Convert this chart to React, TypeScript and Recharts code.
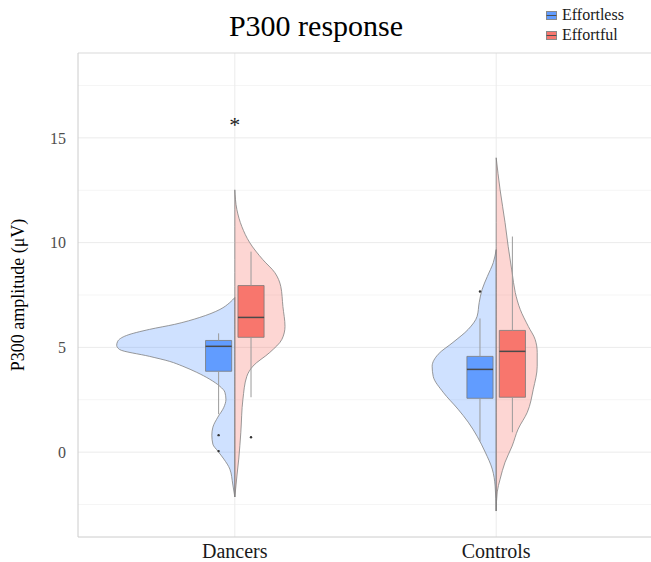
import React from "react";
import {
  ComposedChart,
  Area,
  XAxis,
  YAxis,
  CartesianGrid,
  ReferenceArea,
  ReferenceLine,
  ReferenceDot,
  Legend,
} from "recharts";

const SERIF = '"Liberation Serif", "Times New Roman", serif';

const GROUPS = ["Dancers", "Controls"];
const CONDITIONS = ["Effortless", "Effortful"];
const COLORS: Record<string, string> = { Effortless: "#619CFF", Effortful: "#F8766D" };

// violin halves: amplitude (µV) and half-width (in group units)
const DANCERS_EFFORTLESS_Y = [7.38, 7.14, 6.81, 6.43, 6.1, 5.86, 5.57, 5.29, 5.1, 4.9, 4.57, 4.33, 4.1, 3.81, 3.48, 3.14, 2.86, 2.52, 2.14, 1.67, 1.19, 0.81, 0.38, 0.05, -0.33, -0.81, -1.52, -2.14];
const DANCERS_EFFORTLESS_W = [0, 0.019, 0.057, 0.134, 0.23, 0.326, 0.414, 0.448, 0.452, 0.441, 0.326, 0.249, 0.199, 0.146, 0.096, 0.057, 0.038, 0.034, 0.042, 0.065, 0.084, 0.088, 0.084, 0.065, 0.042, 0.019, 0.008, 0];

const DANCERS_EFFORTFUL_Y = [12.52, 11.57, 10.76, 10.0, 9.19, 8.57, 7.9, 6.95, 6.0, 5.38, 4.76, 4.1, 3.62, 2.52, 0.95, -0.33, -1.14, -2.14];
const DANCERS_EFFORTFUL_W = [0, 0.008, 0.027, 0.057, 0.107, 0.153, 0.176, 0.184, 0.192, 0.18, 0.134, 0.069, 0.046, 0.031, 0.023, 0.015, 0.008, 0];

const CONTROLS_EFFORTLESS_Y = [9.67, 9.05, 8.38, 7.76, 7.14, 6.48, 5.86, 5.24, 4.67, 4.1, 3.62, 2.86, 2.05, 1.43, 0.76, 0.0, -0.81, -1.62, -2.81];
const CONTROLS_EFFORTLESS_W = [0, 0.011, 0.034, 0.054, 0.065, 0.073, 0.107, 0.165, 0.222, 0.245, 0.241, 0.203, 0.146, 0.107, 0.073, 0.042, 0.015, 0.004, 0];

const CONTROLS_EFFORTFUL_Y = [14.05, 12.52, 10.95, 9.81, 8.57, 7.62, 6.81, 6.0, 5.38, 4.76, 4.1, 3.0, 1.9, 1.1, 0.29, -0.48, -1.29, -1.9, -2.81];
const CONTROLS_EFFORTFUL_W = [0, 0.015, 0.034, 0.046, 0.061, 0.073, 0.092, 0.123, 0.149, 0.157, 0.157, 0.142, 0.119, 0.084, 0.061, 0.034, 0.015, 0.004, 0];

// boxplots, order: Dancers/Effortless, Dancers/Effortful, Controls/Effortless, Controls/Effortful
const BOX_GROUP = [1, 1, 2, 2];
const BOX_COND = ["Effortless", "Effortful", "Effortless", "Effortful"];
const BOX_LOW = [1.81, 2.62, 0.52, 0.95];
const BOX_Q1 = [3.86, 5.48, 2.57, 2.62];
const BOX_MED = [5.05, 6.43, 3.95, 4.81];
const BOX_Q3 = [5.33, 7.95, 4.57, 5.81];
const BOX_HIGH = [5.67, 9.57, 6.38, 10.29];

const OUTLIER_GROUP = [1, 1, 1, 2];
const OUTLIER_COND = ["Effortless", "Effortless", "Effortful", "Effortless"];
const OUTLIER_Y = [0.81, 0.05, 0.71, 7.67];

const SIGNIF_GROUP = [1];
const SIGNIF_Y = [15.65];
const SIGNIF_LABEL = ["*"];

const Y_DOMAIN: [number, number] = [-4.05, 19.05];
const Y_TICKS = [0, 5, 10, 15];
const Y_MINOR = [-2.5, 2.5, 7.5, 12.5, 17.5];

const DODGE = 0.062;
const BOX_HALF = 0.05;

const halves = [
  { key: "de", group: 1, cond: "Effortless", ys: DANCERS_EFFORTLESS_Y, ws: DANCERS_EFFORTLESS_W },
  { key: "df", group: 1, cond: "Effortful", ys: DANCERS_EFFORTFUL_Y, ws: DANCERS_EFFORTFUL_W },
  { key: "ce", group: 2, cond: "Effortless", ys: CONTROLS_EFFORTLESS_Y, ws: CONTROLS_EFFORTLESS_W },
  { key: "cf", group: 2, cond: "Effortful", ys: CONTROLS_EFFORTFUL_Y, ws: CONTROLS_EFFORTFUL_W },
].map((h) => ({
  ...h,
  rows: h.ys.map((y, i) => ({
    y,
    v: h.cond === "Effortless" ? [h.group - h.ws[i], h.group] : [h.group, h.group + h.ws[i]],
  })),
}));

const boxes = BOX_GROUP.map((g, i) => {
  const cx = g + (BOX_COND[i] === "Effortless" ? -DODGE : DODGE);
  return { cx, cond: BOX_COND[i], low: BOX_LOW[i], q1: BOX_Q1[i], med: BOX_MED[i], q3: BOX_Q3[i], high: BOX_HIGH[i] };
});

function LegendKey({ color }: { color: string }) {
  return (
    <svg width={11} height={9} style={{ marginRight: 5, display: "block" }}>
      <rect x={0.5} y={0.5} width={10} height={8} fill={color} stroke="#8a8a8a" strokeWidth={1} />
      <line x1={0.5} x2={10.5} y1={4.5} y2={4.5} stroke="#4d4d4d" strokeWidth={1} />
    </svg>
  );
}

function renderLegend() {
  return (
    <div style={{ fontFamily: SERIF, fontSize: 16, color: "#1a1a1a" }}>
      {CONDITIONS.map((c) => (
        <div key={c} style={{ display: "flex", alignItems: "center", height: 20 }}>
          <LegendKey color={COLORS[c]} />
          <span>{c}</span>
        </div>
      ))}
    </div>
  );
}

export default function App() {
  return (
    <div style={{ position: "absolute", left: 0, top: 0, width: 651, height: 562, overflow: "hidden", background: "#fff" }}>
      <div
        style={{
          position: "absolute",
          left: 0,
          top: 11,
          width: 632,
          textAlign: "center",
          fontFamily: SERIF,
          fontSize: 30,
          lineHeight: "30px",
          color: "#000",
        }}
      >
        P300 response
      </div>
      <ComposedChart
        width={653}
        height={562}
        layout="vertical"
        margin={{ top: 53, right: 0, bottom: 0, left: 0 }}
      >
        <CartesianGrid horizontalValues={Y_MINOR} vertical={false} stroke="#f5f5f5" />
        <CartesianGrid horizontalValues={Y_TICKS} verticalValues={[1, 2]} stroke="#ebebeb" />
        <XAxis
          type="number"
          domain={[0.4, 2.6]}
          ticks={[1, 2]}
          allowDataOverflow
          tickFormatter={(v) => GROUPS[v - 1]}
          tickLine={false}
          tickMargin={1}
          height={25}
          axisLine={{ stroke: "#cccccc" }}
          tick={{ fontFamily: SERIF, fontSize: 20, fill: "#1a1a1a" }}
        />
        <YAxis
          type="number"
          dataKey="y"
          domain={Y_DOMAIN}
          ticks={Y_TICKS}
          reversed
          allowDataOverflow
          width={78}
          tickLine={false}
          tickMargin={6}
          axisLine={{ stroke: "#cccccc" }}
          tick={{ fontFamily: SERIF, fontSize: 16, fill: "#4d4d4d" }}
          label={{
            value: "P300 amplitude (μV)",
            angle: -90,
            position: "center",
            dx: -21,
            style: { fontFamily: SERIF, fontSize: 18, fill: "#000", textAnchor: "middle" },
          }}
        />
        <ReferenceLine y={Y_DOMAIN[1]} stroke="#d9d9d9" />
        {halves.map((h) => (
          <Area
            key={h.key}
            data={h.rows}
            dataKey="v"
            type="monotone"
            fill={COLORS[h.cond]}
            fillOpacity={0.3}
            stroke="#808080"
            strokeWidth={0.8}
            dot={false}
            activeDot={false}
            isAnimationActive={false}
          />
        ))}
        {boxes.map((b, i) => (
          <ReferenceLine
            key={`wu${i}`}
            segment={[{ x: b.cx, y: b.q3 }, { x: b.cx, y: b.high }]}
            stroke="#9a9a9a"
            strokeWidth={1}
          />
        ))}
        {boxes.map((b, i) => (
          <ReferenceLine
            key={`wl${i}`}
            segment={[{ x: b.cx, y: b.low }, { x: b.cx, y: b.q1 }]}
            stroke="#9a9a9a"
            strokeWidth={1}
          />
        ))}
        {boxes.map((b, i) => (
          <ReferenceArea
            key={`box${i}`}
            x1={b.cx - BOX_HALF}
            x2={b.cx + BOX_HALF}
            y1={b.q1}
            y2={b.q3}
            fill={COLORS[b.cond]}
            fillOpacity={1}
            stroke="#7a7a7a"
            strokeWidth={0.8}
          />
        ))}
        {boxes.map((b, i) => (
          <ReferenceLine
            key={`med${i}`}
            segment={[{ x: b.cx - BOX_HALF, y: b.med }, { x: b.cx + BOX_HALF, y: b.med }]}
            stroke="#4a4a4a"
            strokeWidth={1.5}
          />
        ))}
        {OUTLIER_Y.map((y, i) => (
          <ReferenceDot
            key={`o${i}`}
            x={OUTLIER_GROUP[i] + (OUTLIER_COND[i] === "Effortless" ? -DODGE : DODGE)}
            y={y}
            r={1.2}
            fill="#333"
            stroke="none"
          />
        ))}
        {SIGNIF_Y.map((y, i) => (
          <ReferenceDot
            key={`s${i}`}
            x={SIGNIF_GROUP[i]}
            y={y}
            r={0}
            fill="none"
            stroke="none"
            label={{ value: SIGNIF_LABEL[i], position: "center", fontFamily: SERIF, fontSize: 22, fill: "#1a1a1a" }}
          />
        ))}
        <Legend
          layout="horizontal"
          verticalAlign="middle"
          align="center"
          content={renderLegend}
          wrapperStyle={{ top: 5, left: 546, width: 105 }}
        />
      </ComposedChart>
    </div>
  );
}
